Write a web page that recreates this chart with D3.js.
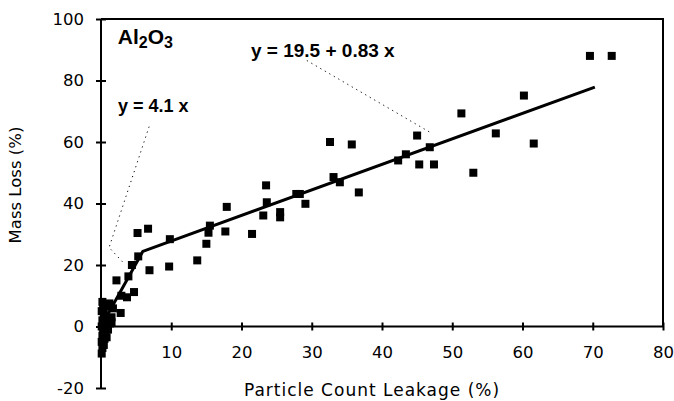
<!DOCTYPE html>
<html>
<head>
<meta charset="utf-8">
<script src="https://cdn.jsdelivr.net/npm/d3@7"></script>
<style>
  body { margin: 0; background: #fff; }
  svg { display: block; }
  .tick text { font-family: "DejaVu Sans", sans-serif; font-size: 16.5px; fill: #000; }
</style>
</head>
<body>
<div id="chart"></div>
<script>
// particle count leakage (%) vs mass loss (%) for each sample
const leakage = [
  69.6, 72.7, 60.2, 51.3, 56.2, 61.6, 45.0, 35.7, 32.6, 45.3, 47.4, 53.0,
  36.7, 42.3, 43.4, 46.8, 33.1, 34.0,
  23.5, 27.8, 28.3, 29.1, 25.5, 25.5, 23.6, 23.1, 21.5, 17.9, 17.7, 15.5,
  15.3, 15.0, 13.7, 9.7, 9.8, 6.9, 6.7, 5.2,
  5.3, 4.4, 3.9, 4.7, 2.8, 2.9, 2.2, 3.7, 1.3, 1.7, 0.3, 1.5,
  0.2, 0.5, 0.9, 1.2, 0.1, 0.4, 0.7, 1.5, 0.2, 0.6, 0.9, 0.1,
  0.3, 0.6, 0.2, 0.5, 0.8, 0.1, 0.4, 0.2, 0.1, 1.0, 1.3
];
const massLoss = [
  88.0, 88.0, 75.1, 69.3, 62.8, 59.5, 62.1, 59.2, 60.0, 52.7, 52.7, 50.0,
  43.6, 54.0, 56.0, 58.3, 48.6, 46.9,
  45.9, 43.1, 43.1, 39.9, 37.2, 35.5, 40.4, 36.1, 30.1, 38.9, 30.9, 32.8,
  30.5, 26.9, 21.5, 19.5, 28.4, 18.3, 31.8, 30.4,
  22.8, 20.0, 16.3, 11.2, 4.4, 10.0, 15.0, 9.5, 6.8, 5.9, 5.9, 1.4,
  8.0, 7.0, 6.5, 7.5, 5.0, 4.0, 3.0, 3.0, 2.0, 1.0, 0.5, 0.0,
  -1.0, -2.0, -3.0, -4.0, -3.5, -5.0, -6.0, -7.0, -8.8, -1.0, 1.0
];

// two-segment fit: y = 4.1 x up to the knee, then y = 19.5 + 0.83 x
const fitX = [0, 5.96, 70.3];
const fitY = [0, 24.45, 77.85];

const xTicks = [10, 20, 30, 40, 50, 60, 70, 80];
const yTicks = [-20, 0, 20, 40, 60, 80, 100];

// leader lines (data coordinates) from equations to the fit
const leader1X = [29.3, 47.1];
const leader1Y = [86.5, 62.8];
const leader2X = [6.85, 1.15, 3.4];
const leader2Y = [65.0, 25.7, 20.2];

const width = 674, height = 401;

const svg = d3.select("#chart").append("svg")
  .attr("width", width)
  .attr("height", height);

const x = d3.scaleLinear().domain([0, 80]).range([101, 663]);
const y = d3.scaleLinear().domain([-20, 100]).range([388, 19]);

// frame: top and right border
svg.append("path")
  .attr("d", `M${x(0)},${y(100)}H${x(80)}V${y(0)}`)
  .attr("fill", "none")
  .attr("stroke", "#000")
  .attr("stroke-width", 2);

// y axis with crossing ticks
const yAxis = svg.append("g")
  .attr("transform", `translate(${x(0)},0)`)
  .call(d3.axisLeft(y).tickValues(yTicks).tickSize(5).tickPadding(12).tickFormat(d => String(d)));
yAxis.select(".domain").attr("stroke-width", 2).attr("d", `M0,${y(-20)}V${y(100)}`);
yAxis.selectAll(".tick line").attr("x1", 5).attr("x2", -5).attr("stroke-width", 2);

// x axis along y = 0
const xAxis = svg.append("g")
  .attr("transform", `translate(0,${y(0)})`)
  .call(d3.axisBottom(x).tickValues(xTicks).tickSize(4).tickPadding(16));
xAxis.select(".domain").attr("stroke-width", 2).attr("d", `M${x(0)},0H${x(80)}`);
xAxis.selectAll(".tick line").attr("y1", -4).attr("y2", 4).attr("stroke-width", 2);

// axis titles
svg.append("text")
  .attr("x", 372)
  .attr("y", 396)
  .attr("text-anchor", "middle")
  .style("font-family", "DejaVu Sans, sans-serif")
  .style("font-size", "17px")
  .style("letter-spacing", "1px")
  .text("Particle Count Leakage (%)");

svg.append("text")
  .attr("transform", `translate(21,${y(46)}) rotate(-90)`)
  .attr("text-anchor", "middle")
  .style("font-family", "DejaVu Sans, sans-serif")
  .style("font-size", "16.5px")
  .text("Mass Loss (%)");

// dotted leader lines
const leaderLine = d3.line().x(d => x(d[0])).y(d => y(d[1]));
[[leader1X, leader1Y], [leader2X, leader2Y]].forEach(([lx, ly]) => {
  svg.append("path")
    .attr("d", leaderLine(d3.zip(lx, ly)))
    .attr("fill", "none")
    .attr("stroke", "#000")
    .attr("stroke-width", 1)
    .attr("stroke-dasharray", "1.2,4");
});

// data squares
svg.append("g").selectAll("rect")
  .data(d3.zip(leakage, massLoss))
  .join("rect")
  .attr("x", d => x(d[0]) - 4)
  .attr("y", d => y(d[1]) - 4)
  .attr("width", 8)
  .attr("height", 8)
  .attr("fill", "#000");

// fit line
svg.append("path")
  .attr("d", leaderLine(d3.zip(fitX, fitY)))
  .attr("fill", "none")
  .attr("stroke", "#000")
  .attr("stroke-width", 3)
  .attr("stroke-linejoin", "round");

// labels
const bold = t => t.style("font-family", "Liberation Sans, Arial, sans-serif")
  .style("font-weight", "bold")
  .style("font-size", "19px");

const title = svg.append("text").attr("x", x(2.4)).attr("y", y(92)).call(bold).style("font-size", "21px");
title.append("tspan").text("Al");
title.append("tspan").attr("dy", 4).style("font-size", "16px").text("2");
title.append("tspan").attr("dy", -4).text("O");
title.append("tspan").attr("dy", 4).style("font-size", "16px").text("3");

svg.append("text").attr("x", x(21.35)).attr("y", y(87.5)).call(bold).text("y = 19.5 + 0.83 x");
svg.append("text").attr("x", x(2.42)).attr("y", y(69.6)).call(bold).style("font-size", "18px").text("y = 4.1 x");
</script>
</body>
</html>
